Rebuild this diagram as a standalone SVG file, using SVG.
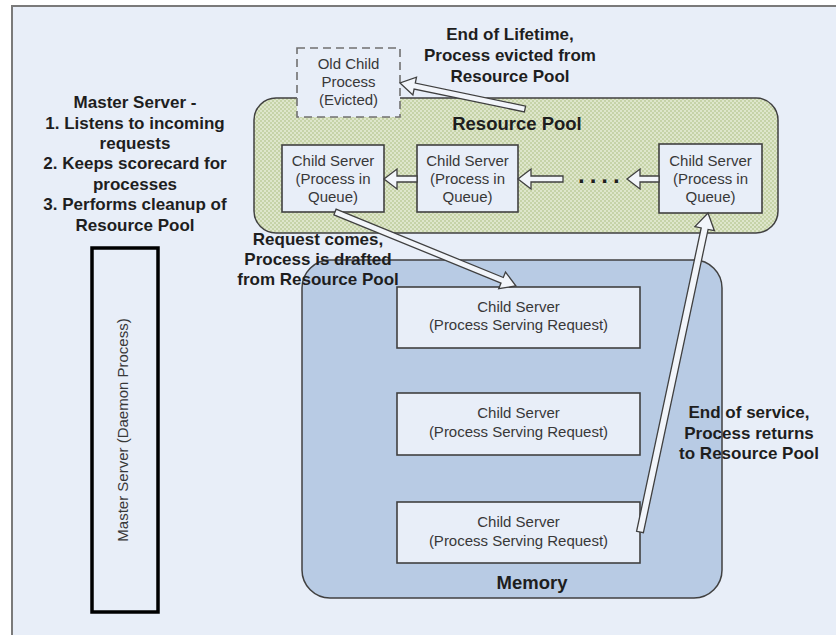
<svg xmlns="http://www.w3.org/2000/svg" width="836" height="635" viewBox="0 0 836 635">
<style>
.box{fill:#E8EEF8;stroke:#404040;stroke-width:1.6}
.lbl{font-family:"Liberation Sans",Arial,sans-serif;font-size:15px;fill:#383838;text-anchor:middle}
.bold{font-family:"Liberation Sans",Arial,sans-serif;font-size:17px;font-weight:bold;fill:#1e1e1e;text-anchor:middle}
.big{font-family:"Liberation Sans",Arial,sans-serif;font-size:18.5px;font-weight:bold;fill:#1e1e1e;text-anchor:middle}
.arr{fill:#F2F5FA;stroke:#404040;stroke-width:1.3;stroke-linejoin:miter}
</style>
<defs>
<pattern id="chk" width="4" height="4" patternUnits="userSpaceOnUse">
<rect width="4" height="4" fill="#DEE6CB"/>
<rect width="2" height="2" fill="#C6D3A8"/>
<rect x="2" y="2" width="2" height="2" fill="#C6D3A8"/>
</pattern>
</defs>
<rect width="836" height="635" fill="#FFFFFF"/>
<rect id="frame" x="12" y="6" width="830" height="640" fill="#E8EEF8" stroke="#7A7A7A" stroke-width="2"/>

<g id="resource-pool">
<rect x="254" y="98" width="524" height="135" rx="22" fill="url(#chk)" stroke="#404040" stroke-width="1.5"/>
<text class="big" x="517" y="130">Resource Pool</text>
</g>

<g id="memory">
<rect x="302" y="260" width="420" height="338" rx="28" fill="#B8CBE4" stroke="#404040" stroke-width="1.5"/>
<text class="big" x="532" y="589">Memory</text>
</g>

<g id="old-child">
<rect x="297" y="48" width="103" height="69" fill="#E8EEF8" stroke="#707070" stroke-width="1.6" stroke-dasharray="8,5"/>
<text class="lbl" x="348.5" y="69">Old Child</text>
<text class="lbl" x="348.5" y="87">Process</text>
<text class="lbl" x="348.5" y="105">(Evicted)</text>
</g>

<g id="queue1">
<rect class="box" x="282" y="145" width="102" height="67"/>
<text class="lbl" x="333" y="166">Child Server</text>
<text class="lbl" x="333" y="184">(Process in</text>
<text class="lbl" x="333" y="202">Queue)</text>
</g>

<g id="queue2">
<rect class="box" x="417" y="145" width="101" height="67"/>
<text class="lbl" x="467.5" y="166">Child Server</text>
<text class="lbl" x="467.5" y="184">(Process in</text>
<text class="lbl" x="467.5" y="202">Queue)</text>
</g>

<g id="queue3">
<rect class="box" x="659" y="144" width="103" height="69"/>
<text class="lbl" x="710.5" y="166">Child Server</text>
<text class="lbl" x="710.5" y="184">(Process in</text>
<text class="lbl" x="710.5" y="202">Queue)</text>
</g>

<g id="dots">
<text x="578" y="183" font-family="'Liberation Sans',Arial,sans-serif" font-size="24" font-weight="bold" fill="#1e1e1e" letter-spacing="5">....</text>
</g>

<g id="serving1">
<rect class="box" x="397" y="287" width="243" height="61"/>
<text class="lbl" x="518.5" y="312">Child Server</text>
<text class="lbl" x="518.5" y="330">(Process Serving Request)</text>
</g>

<g id="serving2">
<rect class="box" x="397" y="393" width="243" height="62"/>
<text class="lbl" x="518.5" y="418">Child Server</text>
<text class="lbl" x="518.5" y="437">(Process Serving Request)</text>
</g>

<g id="serving3">
<rect class="box" x="397" y="502" width="243" height="61"/>
<text class="lbl" x="518.5" y="527">Child Server</text>
<text class="lbl" x="518.5" y="546">(Process Serving Request)</text>
</g>

<g id="master">
<rect x="92" y="248" width="66" height="364" fill="#E8EEF8" stroke="#000000" stroke-width="3.5"/>
<text class="lbl" x="0" y="0" transform="translate(128,430) rotate(-90)">Master Server (Daemon Process)</text>
</g>

<g id="master-desc">
<text class="bold" x="135" y="108">Master Server -</text>
<text class="bold" x="135" y="129">1. Listens to incoming</text>
<text class="bold" x="135" y="149">requests</text>
<text class="bold" x="135" y="169">2. Keeps scorecard for</text>
<text class="bold" x="135" y="190">processes</text>
<text class="bold" x="135" y="210">3. Performs cleanup of</text>
<text class="bold" x="135" y="231">Resource Pool</text>
</g>

<g id="connectors">
<polygon class="arr" points="525.6,106.1 415.3,83.1 416.5,77.2 400,83 412.9,94.9 414.1,89.0 524.4,111.9"/>
<polygon class="arr" points="333.9,214.8 501.0,283.1 498.7,288.7 516,286 505.5,272.0 503.3,277.5 336.1,209.2"/>
<polygon class="arr" points="643.4,532.7 708.1,229.4 714.4,230.7 708,213 694.9,226.6 701.2,227.9 636.6,531.3"/>
<polygon class="arr" points="417,176 397,176 397,169 384,179 397,189 397,182 417,182"/>
<polygon class="arr" points="563,176 531,176 531,169 518,179 531,189 531,182 563,182"/>
<polygon class="arr" points="659,176 640,176 640,169 627,179 640,189 640,182 659,182"/>
</g>

<g id="labels">
<text class="bold" x="510" y="40">End of Lifetime,</text>
<text class="bold" x="510" y="61">Process evicted from</text>
<text class="bold" x="510" y="82">Resource Pool</text>
<text class="bold" x="318" y="245">Request comes,</text>
<text class="bold" x="318" y="265">Process is drafted</text>
<text class="bold" x="318" y="285">from Resource Pool</text>
<text class="bold" x="749" y="418">End of service,</text>
<text class="bold" x="749" y="439">Process returns</text>
<text class="bold" x="749" y="459">to Resource Pool</text>
</g>
</svg>
